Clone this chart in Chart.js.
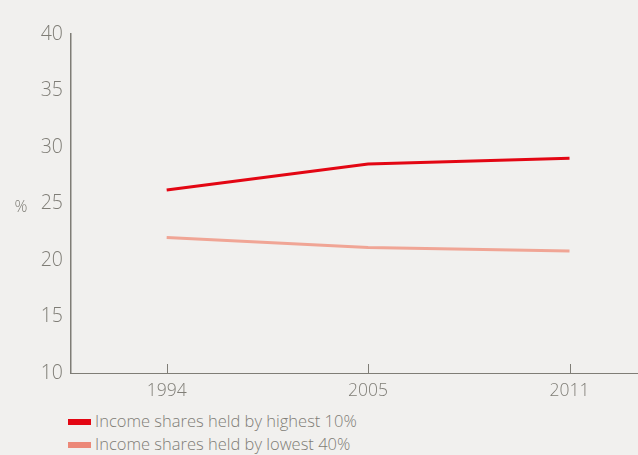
<!DOCTYPE html>
<html>
<head>
<meta charset="utf-8">
<script src="https://cdn.jsdelivr.net/npm/chart.js@4"></script>
<style>
  body { margin: 0; background: #f1f0ee; width: 638px; height: 455px; overflow: hidden; font-family: "Open Sans", Lato, sans-serif; }
  #wrap { position: absolute; left: 0; top: 0; width: 638px; height: 400px; }
  .leyenda { position: absolute; left: 68px; top: 409px; font-size: 16.5px; font-weight: 300; color: #7f7d76; }
  .leyenda div { height: 23px; line-height: 23px; white-space: nowrap; }
  .leyenda span { display: inline-block; width: 23px; height: 6px; margin-right: 4px; vertical-align: middle; position: relative; top: -1px; }
</style>
</head>
<body>
<div id="wrap"><canvas id="grafico"></canvas></div>
<div class="leyenda" id="leyenda"></div>
<script>
const años = ['1994', '2005', '2011'];
const mayor10 = [26.2, 28.5, 29.0];
const menor40 = [22.0, 21.1, 20.8];
const ticksY = [10, 15, 20, 25, 30, 35, 40];

const colorEje = '#7f7d76';
const fuente = '"Open Sans", Lato, sans-serif';

const marcasX = {
  id: 'marcasX',
  afterDraw(chart) {
    const ctx = chart.ctx;
    const x = chart.scales.x;
    const fondo = chart.chartArea.bottom;
    ctx.save();
    ctx.strokeStyle = colorEje;
    ctx.lineWidth = 1;
    años.forEach((a, i) => {
      const px = Math.round(x.getPixelForValue(i)) + 0.5;
      ctx.beginPath();
      ctx.moveTo(px, fondo - 9);
      ctx.lineTo(px, fondo);
      ctx.stroke();
    });
    // etiqueta "%"
    ctx.fillStyle = colorEje;
    ctx.font = '300 16px ' + fuente;
    ctx.textAlign = 'center';
    ctx.textBaseline = 'middle';
    ctx.fillText('%', 21, (chart.chartArea.top + chart.chartArea.bottom) / 2 + 4);
    ctx.restore();
  }
};

const datos = [
  { label: 'Income shares held by highest 10%', data: mayor10.map((v, i) => ({ x: i, y: v })), borderColor: '#e30613', legendColor: '#e30613' },
  { label: 'Income shares held by lowest 40%', data: menor40.map((v, i) => ({ x: i, y: v })), borderColor: '#f0a595', legendColor: '#ec8878' }
];

const grafico = new Chart(document.getElementById('grafico'), {
  type: 'line',
  data: {
    datasets: datos.map(d => ({
      label: d.label,
      data: d.data,
      borderColor: d.borderColor,
      borderWidth: 3,
      pointRadius: 0,
      tension: 0,
      fill: false
    }))
  },
  options: {
    responsive: true,
    maintainAspectRatio: false,
    animation: false,
    layout: { padding: { top: 34, right: 0, left: 0, bottom: 0 } },
    plugins: { legend: { display: false }, tooltip: { enabled: false } },
    scales: {
      x: {
        type: 'linear',
        min: -0.475,
        max: 2.34,
        afterBuildTicks: s => { s.ticks = años.map((a, i) => ({ value: i })); },
        afterFit: s => { s.height = 27; },
        ticks: {
          callback: (v) => años[v],
          color: colorEje,
          font: { family: fuente, size: 17.5, weight: 300 },
          padding: 0,
          maxRotation: 0,
          autoSkip: false
        },
        grid: { display: false },
        border: { color: colorEje, width: 1 }
      },
      y: {
        min: 10,
        max: 40,
        afterBuildTicks: s => { s.ticks = ticksY.map(v => ({ value: v })); },
        afterFit: s => { s.width = 71; },
        ticks: {
          color: colorEje,
          font: { family: fuente, size: 19.5, weight: 300 },
          padding: 8
        },
        grid: { display: false, drawTicks: false },
        border: { color: colorEje, width: 1.5 }
      }
    }
  },
  plugins: [marcasX]
});

document.getElementById('leyenda').innerHTML = datos.map(d =>
  `<div><span style="background:${d.legendColor}"></span>${d.label}</div>`).join('');
</script>
</body>
</html>
